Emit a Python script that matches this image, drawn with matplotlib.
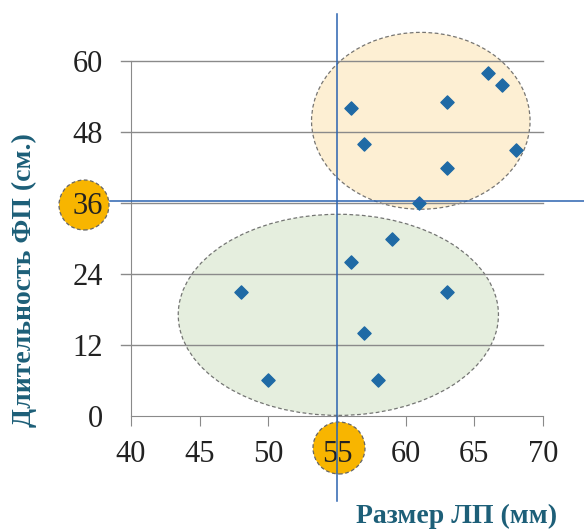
import matplotlib
matplotlib.use("Agg")
import matplotlib.pyplot as plt
from matplotlib.patches import Ellipse, Circle

# upper cluster (long AF duration)
x_upper = [56, 57, 63, 66, 67, 68, 63, 61]
y_upper = [52, 46, 53, 58, 56, 45, 42, 36]
# lower cluster
x_lower = [59, 56, 63, 48, 57, 58, 50]
y_lower = [30, 26, 21, 21, 14, 6, 6]

x_ticks = [40, 45, 50, 55, 60, 65, 70]
y_ticks = [0, 12, 24, 36, 48, 60]
x_cut = 55
y_cut = 36

xlabel = "Размер ЛП (мм)"
ylabel = "Длительность ФП (см.)"

serif = ["Liberation Serif", "DejaVu Serif"]
label_color = "#1d5f78"
marker_color = "#1f6aa5"
line_color = "#2b63b0"

fig = plt.figure(figsize=(5.84, 5.31), dpi=100)
ax = fig.add_axes([0.224, 0.2166, 0.706, 0.6684])
ax.patch.set_alpha(0)
ax.set_xlim(40, 70)
ax.set_ylim(0, 60)

# highlight the cut-off tick values (behind the tick labels)
for cx, cy, r in [(84, 531 - 205, 25), (339, 531 - 448, 26)]:
    fig.patches.append(Circle((cx, cy), r, transform=None, facecolor="#f8b500",
                              edgecolor="#666666", linestyle=(0, (3, 2)),
                              linewidth=0.9, zorder=-1, figure=fig))

# clusters
ax.add_patch(Ellipse((61.1, 49.9), 15.9, 29.9, facecolor="#fdecc8", alpha=0.8,
                     edgecolor="#555555", linestyle=(0, (3, 2)), linewidth=0.9,
                     zorder=1, clip_on=False))
ax.add_patch(Ellipse((55.1, 17.1), 23.3, 34.0, facecolor="#dfead6", alpha=0.8,
                     edgecolor="#555555", linestyle=(0, (3, 2)), linewidth=0.9,
                     zorder=1, clip_on=False))

for y in y_ticks[1:]:
    ax.plot([39.3, 70], [y, y], color="#8a8a8a", linewidth=1.0, zorder=2, clip_on=False)

ax.scatter(x_upper, y_upper, marker="D", s=45, color=marker_color, zorder=4)
ax.scatter(x_lower, y_lower, marker="D", s=45, color=marker_color, zorder=4)

# cut-off lines
ax.plot([x_cut, x_cut], [68, -14.3], color=line_color, linewidth=1.1, zorder=5, clip_on=False)
ax.plot([38.5, 73.3], [y_cut + 0.3, y_cut + 0.3], color=line_color, linewidth=1.1,
        zorder=5, clip_on=False)

for side in ["top", "right"]:
    ax.spines[side].set_visible(False)
ax.spines["left"].set_color("#8a8a8a")
ax.spines["bottom"].set_color("#8a8a8a")
ax.set_xticks(x_ticks)
ax.set_yticks(y_ticks)
ax.tick_params(axis="x", length=7, color="#8a8a8a", pad=10)
ax.tick_params(axis="y", length=0, pad=20)
for lbl in ax.get_xticklabels() + ax.get_yticklabels():
    lbl.set_fontfamily(serif)
    lbl.set_fontsize(22)
    lbl.set_color("#222222")

fig.text(0.041, 0.473, ylabel, rotation=90, ha="center", va="center",
         fontsize=20, fontweight="bold", color=label_color, family=serif)
fig.text(0.781, 0.028, xlabel, ha="center", va="center",
         fontsize=20, fontweight="bold", color=label_color, family=serif)

fig.savefig("out.png", dpi=100)
